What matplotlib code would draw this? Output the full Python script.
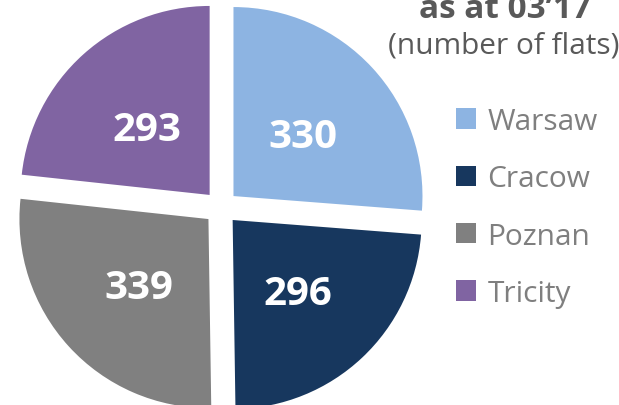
import matplotlib.pyplot as plt

cities = ["Warsaw", "Cracow", "Poznan", "Tricity"]
flats = [330, 296, 339, 293]
colours = ["#8DB4E2", "#17375E", "#808080", "#8064A2"]

plt.rcParams['font.family'] = ['Open Sans', 'DejaVu Sans']

fig = plt.figure(figsize=(6.19, 4.06), dpi=100)
ax = fig.add_axes([0, 0, 1, 1])

total = sum(flats)
# explode is in data units here (pixel-sized axes)
wedges, texts, autotexts = ax.pie(
    flats, colors=colours, startangle=90, counterclock=False,
    explode=[17] * len(flats), center=(221, 406 - 208.6), radius=189,
    autopct=lambda p: f"{round(p * total / 100)}", pctdistance=0.5,
    textprops=dict(color="white", fontsize=29, fontweight="bold"),
)
for t in autotexts:
    x, y = t.get_position()
    t.set_position((x, y - 5))

ax.set_xlim(0, 619)
ax.set_ylim(0, 406)
ax.set_aspect('equal')
ax.axis('off')

ax.text(505, 406 - 18, "as at 03\u201917", ha="center", va="baseline",
        fontsize=24, fontweight="bold", color="#595959")
ax.text(504, 406 - 53, "(number of flats)", ha="center", va="baseline",
        fontsize=21.5, color="#595959")

leg = ax.legend(wedges, cities, loc="upper left", bbox_to_anchor=(444 / 619, 1 - 96 / 406),
                frameon=False, fontsize=21.5, labelcolor="#7F7F7F",
                handlelength=0.68, handleheight=0.68, handletextpad=0.38,
                labelspacing=0.95, borderaxespad=0)

fig.savefig("out.png", dpi=100)
